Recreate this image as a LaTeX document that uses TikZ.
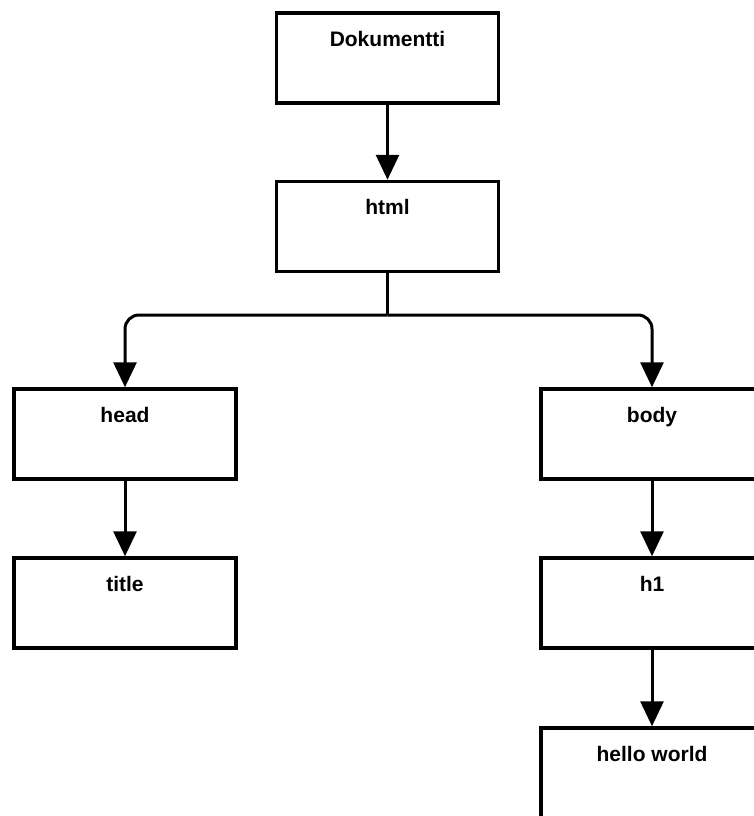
\documentclass[tikz,border=0pt]{standalone}
\usepackage{fontspec}
\setmainfont{Liberation Sans}
\usetikzlibrary{arrows.meta}
\begin{document}
\begin{tikzpicture}[x=1pt,y=-1pt,
  box/.style={draw=black, line width=3.5pt, fill=white, minimum width=222pt, minimum height=90pt, inner sep=0pt},
  boxtext/.style={font=\fontsize{21}{25}\selectfont\bfseries, anchor=base, yshift=-35pt, inner sep=0pt},
  conn/.style={draw=black, line width=3pt, -{Triangle[width=23pt,length=25pt]}},
  branch/.style={conn, rounded corners=14pt}
]
\clip (0,0) rectangle (754,816);
\fill[white] (0,0) rectangle (754,816);
\node[box, label={[boxtext]north:Dokumentti}] (dok) at (387.5,58) {};
\node[box, label={[boxtext]north:html}] (html) at (387.5,226.5) {};
\node[box, label={[boxtext]north:head}] (head) at (125,434) {};
\node[box, label={[boxtext]north:title}] (title) at (125,603) {};
\node[box, label={[boxtext]north:body}] (body) at (652,434) {};
\node[box, label={[boxtext]north:h1}] (h1) at (652,603) {};
\node[box, label={[boxtext]north:hello world}] (hw) at (652,773) {};
\draw[conn] (dok.south) -- (html.north);
\coordinate (junc) at (387.5,315);
\draw[line width=2.5pt] (html.south) -- (junc);
\draw[branch] (junc) -| (head.north);
\draw[branch] (junc) -| (body.north);
\draw[conn] (head.south) -- (title.north);
\draw[conn] (body.south) -- (h1.north);
\draw[conn] (h1.south) -- (hw.north);
\end{tikzpicture}
\end{document}
